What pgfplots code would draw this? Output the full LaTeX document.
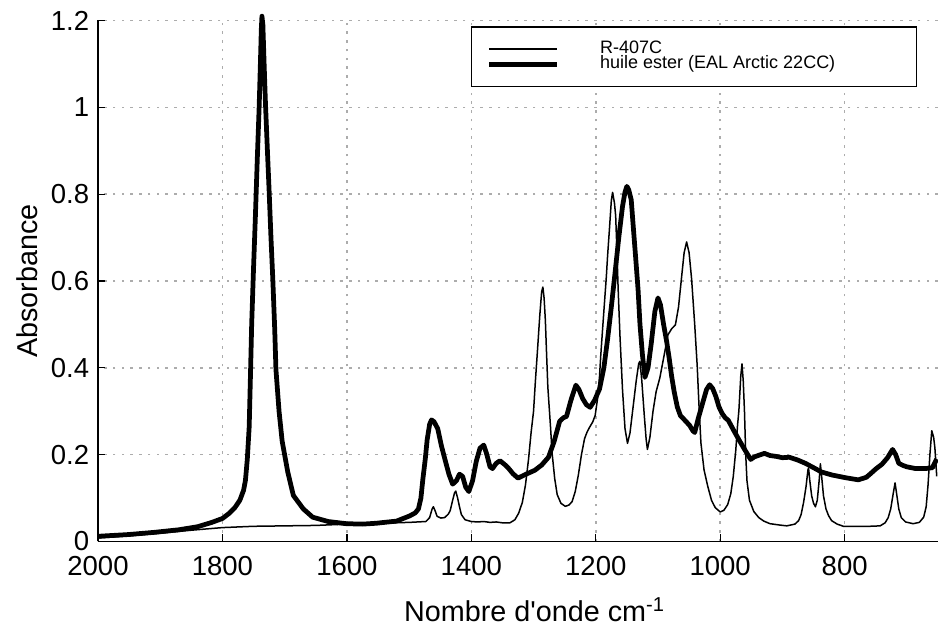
\documentclass[border=0pt]{standalone}
\usepackage{fontspec}
\setmainfont{Liberation Sans}
\usepackage{pgfplots}
\pgfplotsset{compat=1.18}
\begin{document}
\begin{tikzpicture}
\path[use as bounding box] (-39.2pt,-34.2pt) rectangle (336pt,216.6pt);
\begin{axis}[
  at={(0,0)}, anchor=south west,
  scale only axis, width=336pt, height=208.4pt,
  x dir=reverse, xmin=650, xmax=2000, ymin=0, ymax=1.2,
  xtick={800,1000,1200,1400,1600,1800,2000},
  ytick={0,0.2,0.4,0.6,0.8,1,1.2},
  axis x line=bottom, axis y line=left,
  axis line style={-, line width=0.6pt},
  tick align=inside, major tick length=3pt,
  tick style={black, line width=0.5pt},
  grid=major,
  major grid style={line width=0.6pt, gray!65, dash pattern=on 1pt off 2.5pt},
  /pgf/number format/assume math mode=true,
  /pgf/number format/1000 sep={},
  ticklabel style={font=\fontsize{11}{13}\selectfont},
  xticklabel style={yshift=-2.3pt},
  label style={font=\fontsize{11.5}{13}\selectfont},
  xlabel={Nombre d\textquotesingle{}onde cm\textsuperscript{-1}},
  ylabel={Absorbance},
  xlabel style={at={(axis description cs:0.52,-0.131)}, anchor=center},
  ylabel style={at={(axis description cs:-0.0845,0.5)}, anchor=center},
  clip=false,
  legend image code/.code={\draw[#1] (0pt,0pt) -- (27pt,0pt);},
  legend cell align=left,
  legend style={at={(axis description cs:0.444,0.989)}, anchor=north west,
    draw=black, line width=0.6pt, fill=white,
    font=\fontsize{7.2}{8}\selectfont, row sep=-4.6pt,
    inner xsep=6pt, inner ysep=3.6pt},
]
\addplot[black, line width=0.6pt, line join=round] coordinates {
(2000,0.008)(1950,0.013)(1900,0.019)(1850,0.026)(1800,0.032)(1750,0.035)(1700,0.036)(1650,0.037)(1600,0.04)(1550,0.042)(1500,0.044)(1473,0.046)(1467,0.055)(1463,0.075)(1461,0.08)(1458,0.07)(1455,0.058)(1449,0.054)(1443,0.055)(1437,0.063)(1434,0.071)(1430,0.095)(1427,0.112)(1425,0.116)(1422,0.1)(1419,0.08)(1416,0.062)(1410,0.05)(1400,0.046)(1390,0.045)(1380,0.046)(1370,0.044)(1360,0.045)(1350,0.043)(1338,0.043)(1330,0.05)(1324,0.065)(1318,0.09)(1313,0.13)(1308,0.19)(1304,0.25)(1300,0.3)(1297,0.37)(1294,0.433)(1290,0.52)(1287,0.575)(1285,0.586)(1283,0.56)(1281,0.509)(1279,0.43)(1277,0.355)(1273,0.27)(1270,0.201)(1266,0.145)(1262,0.108)(1256,0.088)(1249,0.081)(1243,0.084)(1238,0.092)(1233,0.115)(1228,0.153)(1223,0.2)(1218,0.237)(1214,0.252)(1210,0.263)(1205,0.275)(1201,0.29)(1197,0.33)(1194,0.38)(1192,0.428)(1189,0.49)(1186,0.55)(1183,0.61)(1181,0.658)(1178,0.72)(1175,0.785)(1173,0.804)(1170,0.78)(1168,0.75)(1166,0.67)(1164,0.58)(1161,0.47)(1157,0.349)(1153,0.26)(1149,0.226)(1145,0.25)(1140,0.31)(1135,0.37)(1131,0.41)(1129,0.415)(1126,0.37)(1122,0.29)(1119,0.235)(1117,0.212)(1113,0.24)(1108,0.3)(1103,0.345)(1097,0.377)(1090,0.43)(1084,0.476)(1078,0.49)(1072,0.499)(1067,0.54)(1062,0.61)(1058,0.665)(1054,0.69)(1050,0.665)(1046,0.605)(1041,0.5)(1037,0.405)(1034,0.31)(1031,0.227)(1026,0.165)(1020,0.127)(1014,0.095)(1008,0.078)(1000,0.068)(994,0.072)(988,0.085)(983,0.11)(979,0.15)(975,0.21)(972,0.27)(970,0.301)(967,0.38)(965,0.409)(963,0.37)(961,0.3)(959,0.2)(957,0.14)(953,0.095)(946,0.069)(938,0.055)(930,0.047)(920,0.041)(905,0.038)(893,0.036)(880,0.04)(874,0.048)(870,0.062)(866,0.09)(862,0.127)(859,0.165)(858,0.169)(856,0.14)(853,0.105)(850,0.088)(847,0.08)(844,0.095)(841,0.14)(839,0.179)(837,0.15)(834,0.105)(830,0.075)(826,0.06)(821,0.048)(812,0.04)(802,0.035)(780,0.035)(760,0.035)(743,0.036)(735,0.043)(730,0.055)(726,0.075)(722,0.11)(719,0.135)(716,0.105)(713,0.075)(709,0.055)(702,0.045)(690,0.041)(680,0.044)(673,0.056)(669,0.08)(666,0.13)(663,0.2)(660,0.255)(657,0.24)(655,0.216)(652,0.15)
};
\addplot[black, line width=1.9pt, line join=round] coordinates {
(2000,0.012)(1975,0.014)(1951,0.016)(1910,0.021)(1870,0.027)(1840,0.034)(1817,0.044)(1800,0.053)(1789,0.065)(1780,0.078)(1772,0.095)(1766,0.118)(1763,0.141)(1760,0.19)(1757,0.264)(1755,0.38)(1753,0.5)(1750,0.63)(1747,0.75)(1744,0.88)(1741,1.0)(1739,1.1)(1737.5,1.18)(1736.5,1.21)(1735,1.19)(1733,1.1)(1731,1.015)(1728,0.91)(1725,0.809)(1722,0.7)(1719,0.603)(1716,0.49)(1714,0.396)(1709,0.3)(1704,0.231)(1695,0.16)(1686,0.106)(1670,0.075)(1655,0.056)(1630,0.046)(1601,0.041)(1575,0.040)(1553,0.042)(1520,0.047)(1499,0.059)(1490,0.066)(1485,0.075)(1481,0.10)(1478,0.142)(1474,0.19)(1471,0.234)(1467,0.27)(1464,0.28)(1460,0.276)(1454,0.26)(1448,0.22)(1442,0.187)(1436,0.155)(1430,0.132)(1424,0.14)(1419,0.155)(1414,0.15)(1409,0.125)(1404,0.115)(1398,0.14)(1392,0.185)(1386,0.215)(1380,0.222)(1375,0.2)(1370,0.172)(1366,0.168)(1360,0.18)(1354,0.186)(1347,0.178)(1341,0.170)(1333,0.156)(1325,0.146)(1312,0.155)(1298,0.164)(1287,0.176)(1276,0.194)(1267,0.23)(1258,0.277)(1252,0.285)(1247,0.288)(1240,0.325)(1232,0.36)(1227,0.35)(1221,0.329)(1215,0.315)(1209,0.309)(1202,0.325)(1194,0.351)(1187,0.4)(1181,0.466)(1175,0.54)(1169,0.619)(1163,0.7)(1157,0.772)(1153,0.805)(1150,0.818)(1147,0.81)(1143,0.787)(1140,0.73)(1136,0.656)(1132,0.58)(1129,0.501)(1125,0.43)(1121,0.378)(1116,0.4)(1111,0.454)(1105,0.53)(1100,0.561)(1096,0.545)(1091,0.50)(1086,0.46)(1082,0.422)(1078,0.38)(1074,0.345)(1069,0.31)(1064,0.29)(1056,0.278)(1049,0.267)(1044,0.255)(1041,0.251)(1035,0.285)(1028,0.32)(1022,0.35)(1017,0.361)(1012,0.352)(1007,0.334)(1002,0.31)(997,0.295)(992,0.285)(987,0.279)(978,0.255)(969,0.232)(960,0.21)(951,0.189)(945,0.195)(935,0.2)(929,0.203)(920,0.198)(910,0.196)(900,0.193)(889,0.194)(876,0.188)(863,0.18)(850,0.17)(837,0.16)(820,0.153)(799,0.147)(778,0.142)(765,0.148)(757,0.158)(750,0.167)(740,0.178)(731,0.193)(726,0.205)(723,0.212)(718,0.2)(713,0.18)(706,0.175)(700,0.172)(686,0.168)(670,0.168)(659,0.17)(652,0.19)
};
\legend{{\hspace*{14.5pt}R-407C}, {\hspace*{14.5pt}huile ester (EAL Arctic 22CC)\hspace*{24.4pt}}}
\end{axis}
\end{tikzpicture}
\end{document}
